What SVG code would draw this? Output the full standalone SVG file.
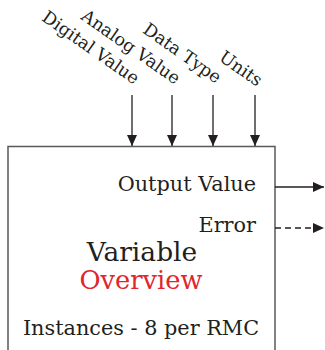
<svg xmlns="http://www.w3.org/2000/svg" width="325" height="350" viewBox="0 0 325 350">
<style>
text{font-family:"DejaVu Serif","Liberation Serif",serif;fill:#231f20}
.lbl{font-size:20.8px}
.rot{font-size:17.5px}
.conn{stroke:#231f20;stroke-width:1.3;fill:none}
</style>
<defs>
<marker id="ah" markerUnits="userSpaceOnUse" markerWidth="12" markerHeight="10" refX="11" refY="5" orient="auto">
<path d="M0,0 L11,5 L0,10 Z" fill="#231f20"/>
</marker>
</defs>
<g id="block">
<path d="M8,350 V146.5 H275 V350" fill="#fff" stroke="#58595b" stroke-width="1.5"/>
<text x="256" y="191" text-anchor="end" class="lbl">Output Value</text>
<text x="256" y="232" text-anchor="end" class="lbl">Error</text>
<text x="142" y="261" text-anchor="middle" style="font-size:26.5px">Variable</text>
<text x="141" y="289" text-anchor="middle" style="font-size:25.7px;fill:#e0262a">Overview</text>
<text x="141" y="335" text-anchor="middle" class="lbl">Instances - 8 per RMC</text>
</g>
<g id="inputs">
<text class="rot" text-anchor="end" transform="translate(134,85) rotate(35)">Digital Value</text>
<text class="rot" text-anchor="end" transform="translate(175,85) rotate(35)">Analog Value</text>
<text class="rot" text-anchor="end" transform="translate(216,84) rotate(35)">Data Type</text>
<text class="rot" text-anchor="end" transform="translate(257,87) rotate(35)">Units</text>
</g>
<g id="connectors">
<line class="conn" x1="132" y1="95" x2="132" y2="146" marker-end="url(#ah)"/>
<line class="conn" x1="172" y1="95" x2="172" y2="146" marker-end="url(#ah)"/>
<line class="conn" x1="213" y1="95" x2="213" y2="146" marker-end="url(#ah)"/>
<line class="conn" x1="255" y1="95" x2="255" y2="146" marker-end="url(#ah)"/>
<line class="conn" x1="275" y1="187" x2="324" y2="187" marker-end="url(#ah)"/>
<line class="conn" x1="275" y1="228" x2="324" y2="228" stroke-dasharray="6,4" marker-end="url(#ah)"/>
</g>
</svg>
